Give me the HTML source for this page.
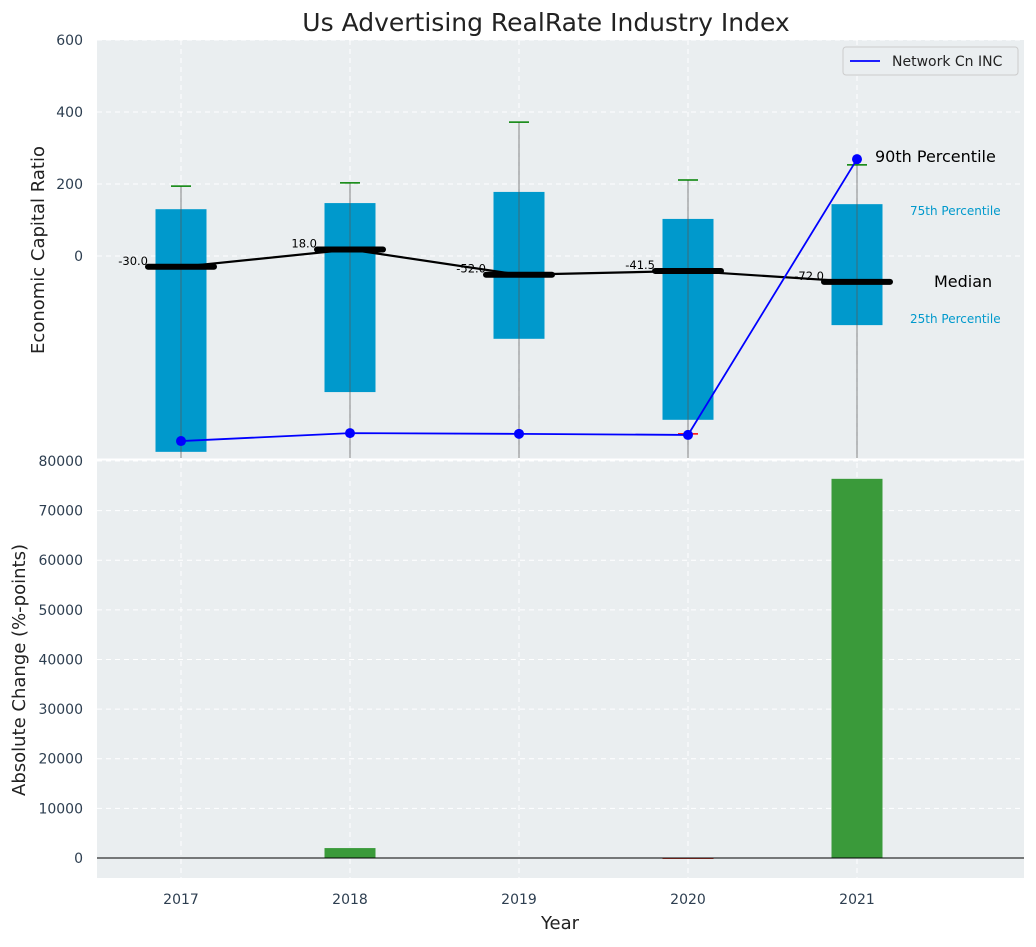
<!DOCTYPE html>
<html><head><meta charset="utf-8"><style>
body{margin:0;background:#fff;font-family:"Liberation Sans","DejaVu Sans",sans-serif}
svg text{font-family:"DejaVu Sans","Liberation Sans",sans-serif}
</style></head><body>
<svg id="c" width="1036" height="942"></svg>
<script>
const years=[2017,2018,2019,2020,2021];
const q75=[130,147,178,103,144];
const q25=[-544,-378,-230,-455,-192];
const q90=[194,203,372,211,253];
const medians=[-30,18,-52,-41.5,-72];
const network=[-514,-492,-494,-497,269];
const changes=[0,2000,0,-200,76400];
const topTicks=[0,200,400,600];
const botTicks=[0,10000,20000,30000,40000,50000,60000,70000,80000];
const NS='http://www.w3.org/2000/svg';
const svg=document.getElementById('c');
function el(t,a,p){const e=document.createElementNS(NS,t);for(const k in a)e.setAttribute(k,a[k]);(p||svg).appendChild(e);return e;}
const L=97,R=1024;
const x=v=>181+(v-2017)*169;
const yT=v=>256-v*0.36;
const yB=v=>858-v*0.004963;
const pw=25.5;
let e=el('rect',{x:L,y:40,width:R-L,height:419,fill:'#eaeef0'});

e=el('rect',{x:L,y:460,width:R-L,height:418,fill:'#eaeef0'});

years.forEach(yr=>{el('line',{x1:x(yr),x2:x(yr),y1:40,y2:878,stroke:'#fff','stroke-dasharray':'5,4','stroke-width':1});});
topTicks.forEach(t=>{el('line',{x1:L,x2:R,y1:yT(t),y2:yT(t),stroke:'#fff','stroke-dasharray':'5,4'});
 const tx=el('text',{x:83,y:yT(t)+5,'text-anchor':'end','font-size':14,fill:'#2d3e50'});tx.textContent=t;
 });
botTicks.forEach(t=>{el('line',{x1:L,x2:R,y1:yB(t),y2:yB(t),stroke:'#fff','stroke-dasharray':'5,4'});
 const tx=el('text',{x:83,y:yB(t)+5,'text-anchor':'end','font-size':14,fill:'#2d3e50'});tx.textContent=t;
 });
el('line',{x1:L,x2:R,y1:459.5,y2:459.5,stroke:'#fff','stroke-width':2});
const defs=el('defs',{});const cp=el('clipPath',{id:'ct'},defs);el('rect',{x:L,y:40,width:R-L,height:418},cp);
const g=el('g',{'clip-path':'url(#ct)'});
years.forEach((yr,i)=>{
 const b=el('rect',{x:x(yr)-pw,y:yT(q75[i]),width:2*pw,height:yT(q25[i])-yT(q75[i]),fill:'#0099cc'},g);
 
 el('line',{x1:x(yr),x2:x(yr),y1:yT(q90[i]),y2:470,stroke:'#555','stroke-opacity':0.7,'stroke-width':1},g);
 const w=el('line',{x1:x(yr)-10,x2:x(yr)+10,y1:yT(q90[i]),y2:yT(q90[i]),stroke:'green','stroke-width':1.5},g);
 
});
el('line',{x1:x(2020)-10,x2:x(2020)+10,y1:yT(-497)-1,y2:yT(-497)-1,stroke:'red','stroke-width':1.5},g);
let mp=years.map((yr,i)=>x(yr)+','+yT(medians[i])).join(' ');
e=el('polyline',{points:mp,fill:'none',stroke:'#000','stroke-width':2.2},g);

years.forEach((yr,i)=>{
 const m=el('line',{x1:x(yr)-33,x2:x(yr)+33,y1:yT(medians[i]),y2:yT(medians[i]),stroke:'#000','stroke-width':6,'stroke-linecap':'round'},g);
 
 const t=el('text',{x:x(yr)-33,y:yT(medians[i])-2,'text-anchor':'end','font-size':11.5,fill:'#000'});t.textContent=medians[i].toFixed(1);
 
});
mp=years.map((yr,i)=>x(yr)+','+yT(network[i])).join(' ');
e=el('polyline',{points:mp,fill:'none',stroke:'blue','stroke-width':1.8},g);

years.forEach((yr,i)=>{const c=el('circle',{cx:x(yr),cy:yT(network[i]),r:5,fill:'blue'},g);
 });
[['90th Percentile',875,162,16,'#000'],['75th Percentile',910,215,12,'#0099cc'],['Median',934,287,16,'#000'],['25th Percentile',910,323,12,'#0099cc']].forEach(a=>{
 const t=el('text',{x:a[1],y:a[2],'font-size':a[3],fill:a[4]});t.textContent=a[0];
 });
e=el('rect',{x:843,y:47,width:175,height:28,rx:3,fill:'#eaeef0',stroke:'#ccc'});

el('line',{x1:850,x2:880,y1:61,y2:61,stroke:'blue','stroke-width':1.8});
e=el('text',{x:892,y:66,'font-size':14,fill:'#222'});e.textContent='Network Cn INC';

years.forEach((yr,i)=>{const v=changes[i];
 const b=el('rect',{x:x(yr)-pw,y:Math.min(yB(v),yB(0)),width:2*pw,height:Math.max(Math.abs(yB(v)-yB(0)),0.5),fill:v>=0?'#3a9a3a':'#d04030'});
 });
el('line',{x1:L,x2:R,y1:yB(0),y2:yB(0),stroke:'#000','stroke-width':1});
years.forEach(yr=>{const t=el('text',{x:x(yr),y:904,'text-anchor':'middle','font-size':14,fill:'#2d3e50'});t.textContent=yr;
 });
e=el('text',{x:546,y:31,'text-anchor':'middle','font-size':25,fill:'#222'});e.textContent='Us Advertising RealRate Industry Index';

e=el('text',{x:560,y:929,'text-anchor':'middle','font-size':18,fill:'#222'});e.textContent='Year';

e=el('text',{x:0,y:0,'text-anchor':'middle','font-size':18,fill:'#222',transform:'translate(44,250) rotate(-90)'});e.textContent='Economic Capital Ratio';

e=el('text',{x:0,y:0,'text-anchor':'middle','font-size':18,fill:'#222',transform:'translate(25,670) rotate(-90)'});e.textContent='Absolute Change (%-points)';

</script>
</body></html>
